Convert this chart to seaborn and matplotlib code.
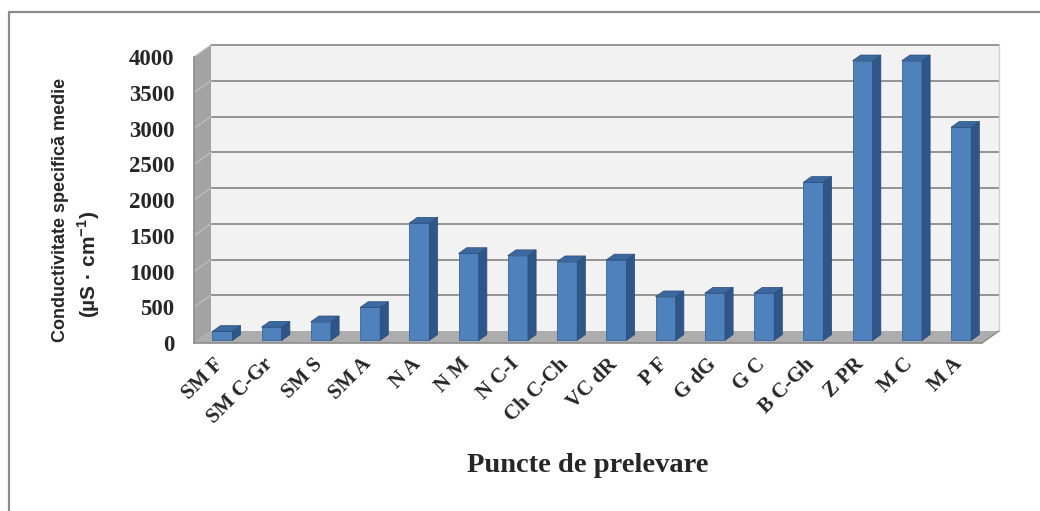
import matplotlib
matplotlib.use("Agg")
import matplotlib.pyplot as plt
import matplotlib.transforms as mtransforms
from matplotlib.patches import Polygon
from matplotlib.lines import Line2D
import numpy as np
import pandas as pd
import seaborn as sns

# Sampling points and their mean specific conductivity (µS/cm)
sites = ["SM F", "SM C-Gr", "SM S", "SM A", "N A", "N M", "N C-I", "Ch C-Ch",
         "VC dR", "P F", "G dG", "G C", "B C-Gh", "Z PR", "M C", "M A"]
conductivity = [125, 185, 260, 460, 1640, 1215, 1185, 1100,
                1125, 610, 660, 660, 2210, 3910, 3910, 2980]
y_ticks = [0, 500, 1000, 1500, 2000, 2500, 3000, 3500, 4000]

sns.set_style("white")
plt.rcParams["font.family"] = ["Liberation Serif", "DejaVu Serif"]
plt.rcParams["mathtext.fontset"] = "custom"
plt.rcParams["mathtext.rm"] = "Liberation Sans:bold"
plt.rcParams["mathtext.bf"] = "Liberation Sans:bold"

W, H, DPI = 1040, 511, 100
fig = plt.figure(figsize=(W / DPI, H / DPI), dpi=DPI)
ax = fig.add_axes([194 / W, 1 - 343 / H, 788 / W, 286 / H])
ax.patch.set_visible(False)

FRONT = "#4F81BD"
SIDE = "#2F5689"
TOP = "#3C68A0"
EDGE = "#3A659B"
WALL = "#A3A3A3"
FLOOR = "#ADADAD"
BACK = "#F2F2F2"
GRID = "#8C8C8C"

df = pd.DataFrame({"site": sites, "value": conductivity})
sns.barplot(data=df, x="site", y="value", ax=ax, width=0.41, color=FRONT,
            saturation=1, edgecolor=EDGE, linewidth=0.6, zorder=5)
bars = list(ax.patches)

ax.set_xlim(-0.5, len(sites) - 0.5)
ax.set_ylim(0, 4000)
ax.set_xlabel("")
ax.set_ylabel("")

# oblique depth of the chart box, in pixels
DX, DY = 17.0, 12.0
F0, F1 = 0.22, 0.70  # depth span occupied by the columns
ident = mtransforms.IdentityTransform()


def disp(x, y, f):
    p = ax.transData.transform((x, y))
    return (p[0] + f * DX, p[1] + f * DY)


def poly(pts, color, z, **kw):
    ax.add_patch(Polygon(pts, closed=True, facecolor=color, transform=ident,
                         clip_on=False, zorder=z, **kw))


x_lo, x_hi = -0.5, len(sites) - 0.5
y_hi = y_ticks[-1]

# back wall, side wall and floor
poly([disp(x_lo, 0, 1), disp(x_hi, 0, 1), disp(x_hi, y_hi, 1), disp(x_lo, y_hi, 1)],
     BACK, 0.5, edgecolor="none")
poly([disp(x_lo, 0, 0), disp(x_lo, y_hi, 0), disp(x_lo, y_hi, 1), disp(x_lo, 0, 1)],
     WALL, 0.6, edgecolor="none")
poly([disp(x_lo, 0, 0), disp(x_hi, 0, 0), disp(x_hi, 0, 1), disp(x_lo, 0, 1)],
     FLOOR, 0.7, edgecolor="none")

# gridlines on the back wall and across the side wall
for v in y_ticks[1:]:
    a, b = disp(x_lo, v, 1), disp(x_hi, v, 1)
    ax.add_line(Line2D([a[0], b[0]], [a[1], b[1]], transform=ident, color=GRID,
                       lw=1.3, clip_on=False, zorder=1))
    c = disp(x_lo, v, 0)
    ax.add_line(Line2D([c[0], a[0]], [c[1], a[1]], transform=ident, color="#BDBDBD",
                       lw=1.0, clip_on=False, zorder=1))
# right edge of the back wall
a, b = disp(x_hi, 0, 1), disp(x_hi, y_hi, 1)
ax.add_line(Line2D([a[0], b[0]], [a[1], b[1]], transform=ident, color="#D0D0D0",
                   lw=1.0, clip_on=False, zorder=1))
# right edge of the floor
a, b = disp(x_hi, 0, 0), disp(x_hi, 0, 1)
ax.add_line(Line2D([a[0], b[0]], [a[1], b[1]], transform=ident, color=GRID,
                   lw=1.0, clip_on=False, zorder=1))

# columns: shift front faces into depth, then add side and top faces
shift = ax.transData + mtransforms.Affine2D().translate(F0 * DX, F0 * DY)
for p in bars:
    p.set_transform(shift)
    p.set_clip_on(False)
    x0, w, h = p.get_x(), p.get_width(), p.get_height()
    poly([disp(x0 + w, 0, F0), disp(x0 + w, h, F0), disp(x0 + w, h, F1), disp(x0 + w, 0, F1)],
         SIDE, 6, edgecolor="#2A4C78", linewidth=0.5)
    poly([disp(x0, h, F0), disp(x0 + w, h, F0), disp(x0 + w, h, F1), disp(x0, h, F1)],
         TOP, 6, edgecolor="#2A4C78", linewidth=0.5)

# axes lines and ticks
for s in ("top", "right"):
    ax.spines[s].set_visible(False)
for s in ("left", "bottom"):
    ax.spines[s].set_color(GRID)
    ax.spines[s].set_linewidth(1.2)

ax.set_yticks(y_ticks)
ax.set_yticklabels([str(v) for v in y_ticks])
ax.tick_params(axis="y", length=5, width=1.2, color=GRID, pad=9, labelsize=16.5)
for lab in ax.get_yticklabels():
    lab.set_fontweight("bold")

ax.set_xticks(range(len(sites)))
ax.set_xticklabels(sites, rotation=45, ha="right", rotation_mode="anchor",
                   fontsize=15, fontweight="bold")
ax.tick_params(axis="x", which="major", length=0, pad=8)
ax.set_xticks(np.arange(x_lo, x_hi + 0.01, 1.0), minor=True)
ax.tick_params(axis="x", which="minor", length=5, width=1.2, color=GRID, direction="out")
# nudge the slanted category labels slightly left of their tick
nudge = mtransforms.ScaledTranslation(-5 / DPI, 0, fig.dpi_scale_trans)
for lab in ax.get_xticklabels():
    lab.set_transform(lab.get_transform() + nudge)

# titles
fig.text(588 / W, 1 - 466 / H, "Puncte de prelevare", ha="center", va="center",
         fontsize=20.5, fontweight="bold")
fig.text(61 / W, 1 - 210 / H, "Conductivitate specifică medie", rotation=90,
         ha="center", va="center", family="Liberation Sans", fontsize=13,
         fontweight="bold")
fig.text(89 / W, 1 - 264 / H, r"(µS · cm$^{\mathbf{-1}}$)", rotation=90,
         ha="center", va="center", family="Liberation Sans", fontsize=15,
         fontweight="bold")

# chart frame
fig.add_artist(Line2D([9 / W, 9 / W], [0, 1 - 12 / H], transform=fig.transFigure,
                      color="#8C8C8C", lw=1.6))
fig.add_artist(Line2D([9 / W, 1], [1 - 12 / H, 1 - 12 / H], transform=fig.transFigure,
                      color="#8C8C8C", lw=1.6))

fig.savefig("out.png", dpi=DPI)
